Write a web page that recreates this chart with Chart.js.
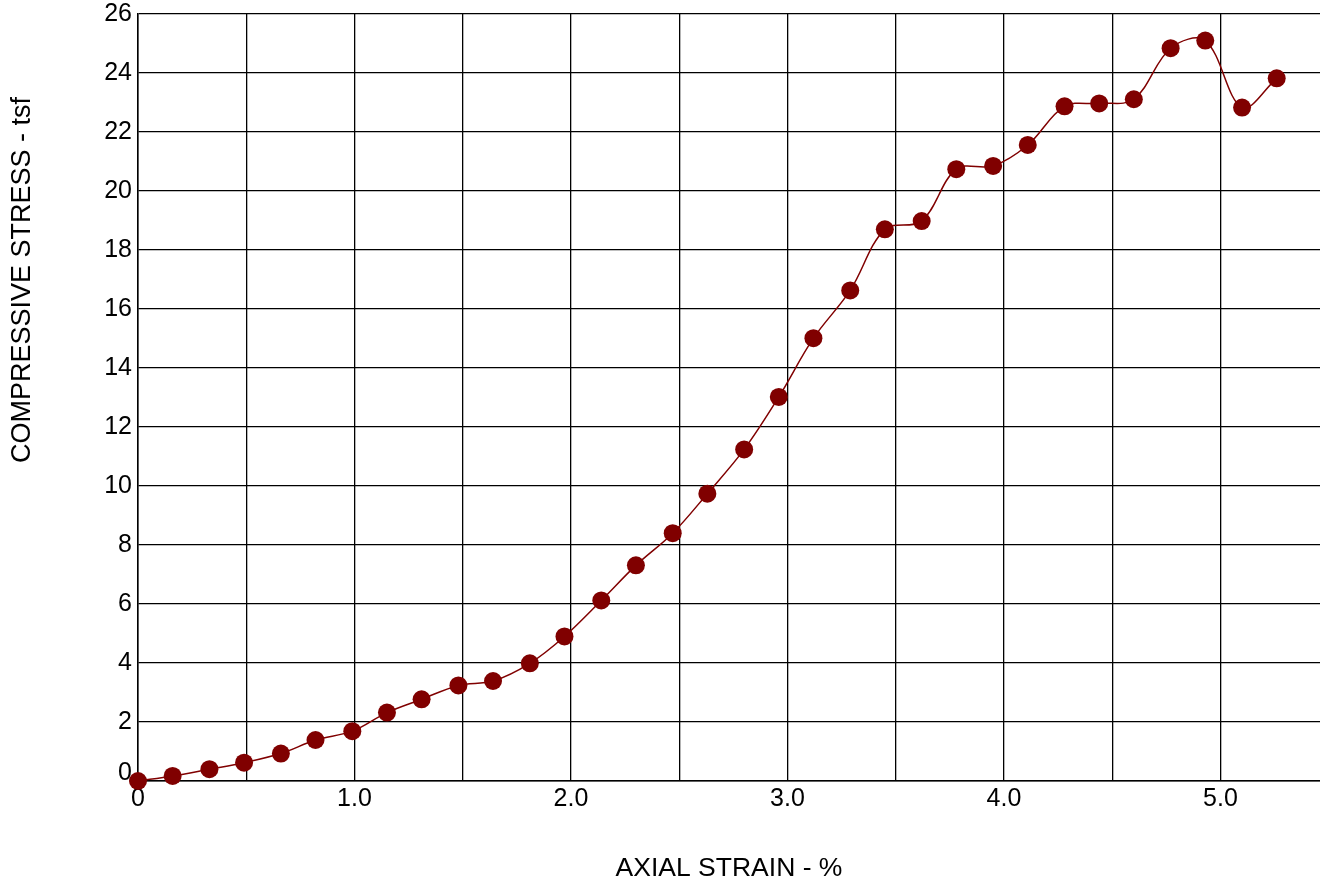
<!DOCTYPE html>
<html>
<head>
<meta charset="utf-8">
<title>Compressive stress vs axial strain</title>
<script src="https://cdn.jsdelivr.net/npm/chart.js@4.4.1/dist/chart.umd.min.js"></script>
<style>
  html, body { margin: 0; padding: 0; background: #fff; overflow: hidden; }
  #wrap { position: relative; width: 1320px; height: 880px; }
</style>
</head>
<body>
<div id="wrap"><canvas id="stressChart"></canvas></div>
<script>
// axial strain (%) and compressive stress (tsf)
const strain = [0, 0.16, 0.33, 0.49, 0.66, 0.82, 0.99, 1.15, 1.31, 1.48, 1.64,
  1.81, 1.97, 2.14, 2.30, 2.47, 2.63, 2.80, 2.96, 3.12, 3.29, 3.45, 3.62,
  3.78, 3.95, 4.11, 4.28, 4.44, 4.60, 4.77, 4.93, 5.10, 5.26];
const stress = [0.0, 0.17, 0.40, 0.62, 0.93, 1.39, 1.69, 2.32, 2.77, 3.24, 3.39,
  3.99, 4.90, 6.12, 7.31, 8.40, 9.74, 11.24, 13.02, 15.01, 16.63, 18.70, 18.98,
  20.74, 20.85, 21.56, 22.87, 22.97, 23.11, 24.84, 25.10, 22.83, 23.82];

// grid every 0.5 %, labels only on whole numbers
const strainTicks = [0, 0.5, 1.0, 1.5, 2.0, 2.5, 3.0, 3.5, 4.0, 4.5, 5.0];
const stressTicks = [0, 2, 4, 6, 8, 10, 12, 14, 16, 18, 20, 22, 24, 26];

const FONT = '"Liberation Sans", Arial, Helvetica, sans-serif';
const RED = '#800000';

// y title sits above the middle of the axis, so draw it by hand
const yTitle = {
  id: 'yTitle',
  afterDraw(chart) {
    const c = chart.ctx;
    c.save();
    c.translate(23, 280);
    c.rotate(-Math.PI / 2);
    c.font = '27px ' + FONT;
    c.fillStyle = '#000';
    c.textAlign = 'center';
    c.textBaseline = 'middle';
    c.fillText('COMPRESSIVE STRESS - tsf', 0, 0);
    c.restore();
  }
};

new Chart('stressChart', {
  type: 'line',
  data: {
    datasets: [{
      label: 'stress',
      data: strain.map((x, i) => ({ x: x, y: stress[i] })),
      borderColor: RED,
      borderWidth: 1.5,
      backgroundColor: RED,
      pointRadius: 9,
      pointBackgroundColor: RED,
      pointBorderColor: RED,
      pointBorderWidth: 0,
      tension: 0.35,
      clip: false
    }]
  },
  plugins: [yTitle],
  options: {
    responsive: true,
    maintainAspectRatio: false,
    animation: false,
    layout: { autoPadding: false, padding: { top: 14, left: 0, right: 0, bottom: 0 } },
    scales: {
      x: {
        type: 'linear',
        min: 0,
        max: 5.46,
        afterBuildTicks: s => { s.ticks = strainTicks.map(v => ({ value: v })); },
        afterFit: s => { s.height = 99; },
        grid: { color: '#000', lineWidth: 1.3, drawTicks: false },
        border: { color: '#000', width: 1.5 },
        ticks: {
          padding: 3,
          color: '#000',
          maxRotation: 0,
          autoSkip: false,
          font: { size: 25, family: FONT },
          callback: v => v === 0 ? '0' : (v % 1 === 0 ? v.toFixed(1) : '')
        },
        title: {
          display: true,
          text: 'AXIAL STRAIN - %',
          color: '#000',
          font: { size: 26.5, family: FONT, lineHeight: 0.85 },
          padding: { top: 0, bottom: 0 }
        }
      },
      y: {
        min: 0,
        max: 26,
        afterBuildTicks: s => { s.ticks = stressTicks.map(v => ({ value: v })); },
        afterFit: s => { s.width = 138; },
        grid: { color: '#000', lineWidth: 1.3, drawTicks: false },
        border: { color: '#000', width: 1.5 },
        ticks: {
          padding: 6,
          color: '#000',
          autoSkip: false,
          font: { size: 25, family: FONT, lineHeight: 0.6 },
          callback: v => v === 0 ? ['0', ''] : String(v)
        }
      }
    },
    plugins: {
      legend: { display: false },
      tooltip: { enabled: false }
    }
  }
});
</script>
</body>
</html>
